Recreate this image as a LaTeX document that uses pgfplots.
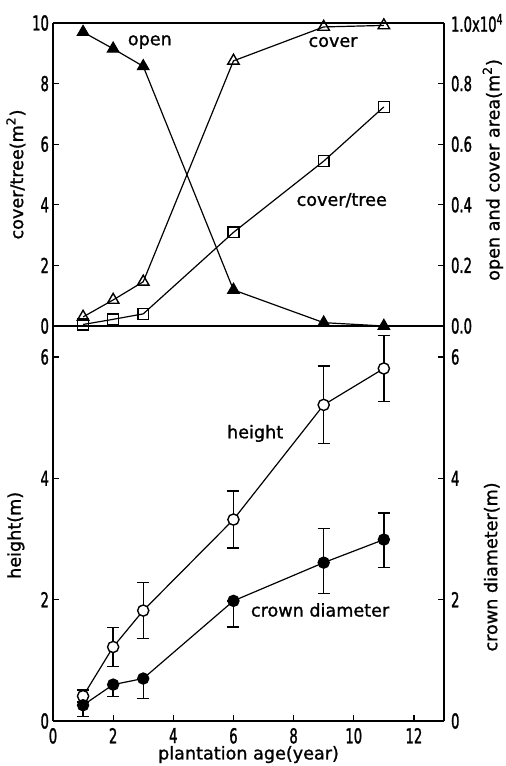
\documentclass[border=0pt]{standalone}
\usepackage{pgfplots}
\pgfplotsset{compat=1.18}
\usepackage{fontspec}
\setmainfont{DejaVu Sans}[FakeBold=1.2]
\newfontfamily\tickfont{DejaVu Sans}[FakeStretch=0.64, FakeBold=1.3]
\newcommand{\lbl}{\fontsize{8.8}{10.5}\selectfont}
\begin{document}
\begin{tikzpicture}
\useasboundingbox (0pt,0pt) rectangle (252.5pt,383pt);
\pgfplotsset{
  every axis/.append style={
    scale only axis, width=195.5pt,
    xmin=0, xmax=13,
    axis line style={line width=0.9pt},
    tick style={line width=0.6pt, black},
    major tick length=3pt,
    tick align=inside,
    /pgf/number format/assume math mode=true,
    tick label style={font=\tickfont\fontsize{10.3}{12}\selectfont},
    yticklabel style={xshift=1.5pt},
    label style={font=\lbl},
    every axis plot/.append style={black, line width=0.6pt},
  }
}
% ---------- top panel, left axis ----------
\begin{axis}[
  at={(26.5pt,220pt)}, anchor=south west, height=151.5pt,
  ymin=0, ymax=10, ytick={0,2,4,6,8,10},
  xtick=\empty, axis y line*=left, axis x line=box,
  ylabel={cover/tree(m\textsuperscript{2})},
  ylabel style={at={(axis description cs:-0.095,0.5)}, anchor=center},
]
\addplot[mark=square, mark size=2.7pt, mark options={fill=white, line width=0.7pt}]
  coordinates {(1,0.05) (2,0.22) (3,0.40) (6,3.09) (9,5.44) (11,7.23)};
\node[font=\lbl] at (axis cs:3.22,9.37) {open};
\node[font=\lbl] at (axis cs:9.31,9.37) {cover};
\node[font=\lbl] at (axis cs:9.6,4.15) {cover/tree};
\end{axis}
% ---------- top panel, right axis ----------
\begin{axis}[
  at={(26.5pt,220pt)}, anchor=south west, height=151.5pt,
  ymin=0, ymax=1, ytick={0,0.2,0.4,0.6,0.8,1.0},
  yticklabels={0.0,0.2,0.4,0.6,0.8,{1.0x10\textsuperscript{4}}},
  yticklabel style={anchor=west, xshift=-1.5pt},
  xtick=\empty, axis y line*=right, axis x line=none,
  ylabel={open and cover area(m\textsuperscript{2})},
  ylabel style={at={(axis description cs:1.125,0.515)}, anchor=center, rotate=0},
]
\addplot[mark=triangle, mark size=3.3pt, mark options={fill=white, line width=0.7pt}]
  coordinates {(1,0.030) (2,0.086) (3,0.146) (6,0.875) (9,0.987) (11,0.992)};
\addplot[mark=triangle*, mark size=3.3pt, mark options={fill=black}]
  coordinates {(1,0.970) (2,0.915) (3,0.857) (6,0.119) (9,0.011) (11,0.0)};
\end{axis}
% ---------- bottom panel, left axis ----------
\begin{axis}[
  at={(26.5pt,22.5pt)}, anchor=south west, height=197.5pt,
  ymin=0, ymax=6.51, ytick={0,2,4,6},
  xtick={0,2,4,6,8,10,12},
  axis y line*=left, axis x line*=bottom,
  xlabel={plantation age(year)},
  xlabel style={at={(axis description cs:0.5,0)}, anchor=north, yshift=-9pt},
  ylabel={height(m)},
  ylabel style={at={(axis description cs:-0.095,0.47)}, anchor=center},
  clip=false,
]
\addplot[mark=*, mark size=2.8pt, mark options={fill=white, line width=0.7pt},
  error bars/.cd, y dir=both, y explicit,
  error bar style={line width=0.7pt}, error mark options={rotate=90, mark size=3pt, line width=0.7pt}]
  coordinates {
  (1,0.41) +- (0.14,0.10)
  (2,1.22) +- (0.36,0.32)
  (3,1.82) +- (0.49,0.46)
  (6,3.32) +- (0.43,0.47)
  (9,5.21) +- (0.69,0.64)
  (11,5.81) +- (0.62,0.54)};
\addplot[mark=*, mark size=2.8pt, mark options={fill=black},
  error bars/.cd, y dir=both, y explicit,
  error bar style={line width=0.7pt}, error mark options={rotate=90, mark size=3pt, line width=0.7pt}]
  coordinates {
  (1,0.26) += (0,0) -= (0,0.19)
  (2,0.60) += (0,0) -= (0,0.20)
  (3,0.70) += (0,0) -= (0,0.33)
  (6,1.98) += (0,0) -= (0,0.43)
  (9,2.61) += (0,0.56) -= (0,0.51)
  (11,2.99) += (0,0.44) -= (0,0.46)};
\node[font=\lbl] at (axis cs:6.72,4.74) {height};
\node[font=\lbl] at (axis cs:8.88,1.83) {crown diameter};
\end{axis}
% ---------- bottom panel, right axis ----------
\begin{axis}[
  at={(26.5pt,22.5pt)}, anchor=south west, height=197.5pt,
  ymin=0, ymax=6.51, ytick={0,2,4,6},
  yticklabel style={anchor=west, xshift=-1.5pt},
  xtick=\empty, axis y line*=right, axis x line=none,
  ylabel={crown diameter(m)},
  ylabel style={at={(axis description cs:1.122,0.39)}, anchor=center, rotate=0},
]
\end{axis}
\end{tikzpicture}
\end{document}
